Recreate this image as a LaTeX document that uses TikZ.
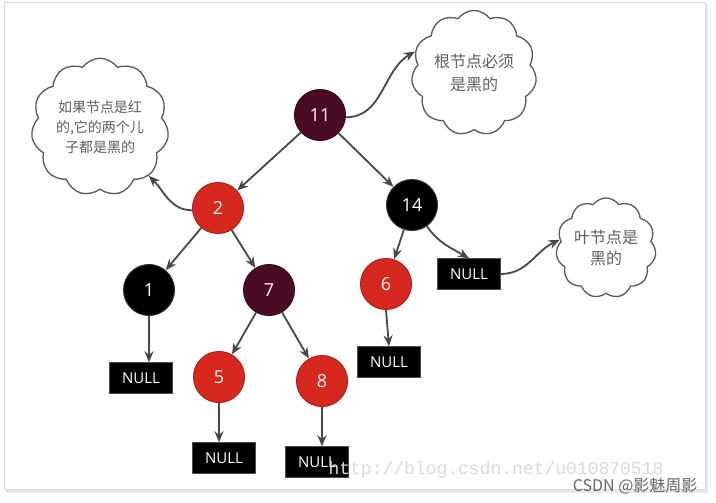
\documentclass[tikz,border=0pt]{standalone}
\usepackage{fontspec}
\setmainfont{Open Sans}
\newfontfamily\cjk{Noto Sans CJK SC}
\newfontfamily\wmfont{Liberation Mono}
\usetikzlibrary{shapes.symbols,arrows.meta}
\definecolor{rbmaroon}{RGB}{74,11,37}
\definecolor{rbred}{RGB}{214,40,30}
\definecolor{arrgray}{RGB}{72,72,72}
\definecolor{cloudtext}{RGB}{95,95,95}
\begin{document}
\begin{tikzpicture}[x=1pt,y=-1pt,
  rbnode/.style={circle, minimum size=51pt, inner sep=0pt, line width=1pt,
     font=\fontsize{18}{18}\selectfont},
  blacknode/.style={rbnode, fill=black, draw=black!80, text=white},
  rednode/.style={rbnode, fill=rbred, draw=rbred!80!black, text=white!85!pink},
  maroonnode/.style={rbnode, fill=rbmaroon, draw=rbmaroon!80!black, text=white!88!pink},
  nullbox/.style={rectangle, fill=black, draw=black!70, minimum width=63pt, minimum height=31pt,
     inner sep=0pt, text=white, font=\fontsize{15}{15}\selectfont},
  thought/.style={cloud, cloud puffs=11, cloud puff arc=110, draw=black!65, line width=1.3pt,
     fill=white, align=center, inner sep=0pt, text=cloudtext},
  arr/.style={draw=arrgray, line width=1.8pt, -{Stealth[length=11pt,width=9pt]}}
]
\useasboundingbox (0,0) rectangle (716,503);
% panel
\fill[gray!18] (6,4) rectangle (708,493);
\fill[white] (4,2) rectangle (705,489);
\draw[gray!30, line width=0.6pt] (4,2) rectangle (705,489);

% tree nodes
\node[maroonnode] (n11) at (320,115) {11};
\node[rednode]    (n2)  at (218,208) {2};
\node[blacknode]  (n14) at (412,205) {14};
\node[blacknode]  (n1)  at (149,290) {1};
\node[maroonnode] (n7)  at (269,290) {7};
\node[rednode]    (n6)  at (386,284) {6};
\node[rednode]    (n5)  at (219,377) {5};
\node[rednode]    (n8)  at (322,381) {8};

\node[nullbox] (null14) at (469,274) {NULL};
\node[nullbox] (null1)  at (141,378) {NULL};
\node[nullbox] (null6)  at (389,362) {NULL};
\node[nullbox] (null5)  at (224,458) {NULL};
\node[nullbox] (null8)  at (317,462) {NULL};

% clouds
\node[thought, minimum width=116pt, minimum height=86pt,
      font=\cjk\fontsize{14}{20}\selectfont] (ctl) at (100,127)
  {如果节点是红\\的,它的两个儿\\子都是黑的};
\node[thought, minimum width=107pt, minimum height=70pt,
      font=\cjk\fontsize{16}{23}\selectfont] (ctr) at (474,73)
  {根节点必须\\是黑的};
\node[thought, minimum width=100pt, minimum height=73pt,
      font=\cjk\fontsize{16}{21}\selectfont] (cr) at (606,248)
  {叶节点是\\黑的};

% edges
\draw[arr] (n11) -- (n2);
\draw[arr] (n11) -- (n14);
\draw[arr] (n2) -- (n1);
\draw[arr] (n2) -- (n7);
\draw[arr] (n14) -- (n6);
\draw[arr] (n14.-55) to[out=-55,in=150] (null14.north);
\draw[arr] (n1.south) -- (n1.south |- null1.north);
\draw[arr] (n7) -- (n5);
\draw[arr] (n7) -- (n8);
\draw[arr] (n6.south) -- (null6.north);
\draw[arr] (n5.south) -- (n5.south |- null5.north);
\draw[arr] (n8.south) -- (n8.south |- null8.north);

% notes
\draw[arr] (n11.-5) to[out=0,in=210] (ctr.160);
\draw[arr] (n2.185) to[out=180,in=-45] (ctl.-45);
\draw[arr] (null14.east) to[out=0,in=205] (cr.170);

% watermarks
\node[text=gray!28, font=\wmfont\fontsize{18}{18}\selectfont] (wm) at (496,470) {http://blog.csdn.net/u010870518};
\node[text=black!60, font=\cjk\fontsize{16}{16}\selectfont, anchor=east] (csdn) at (701,486) {CSDN @影魅周影};
\end{tikzpicture}
\end{document}
